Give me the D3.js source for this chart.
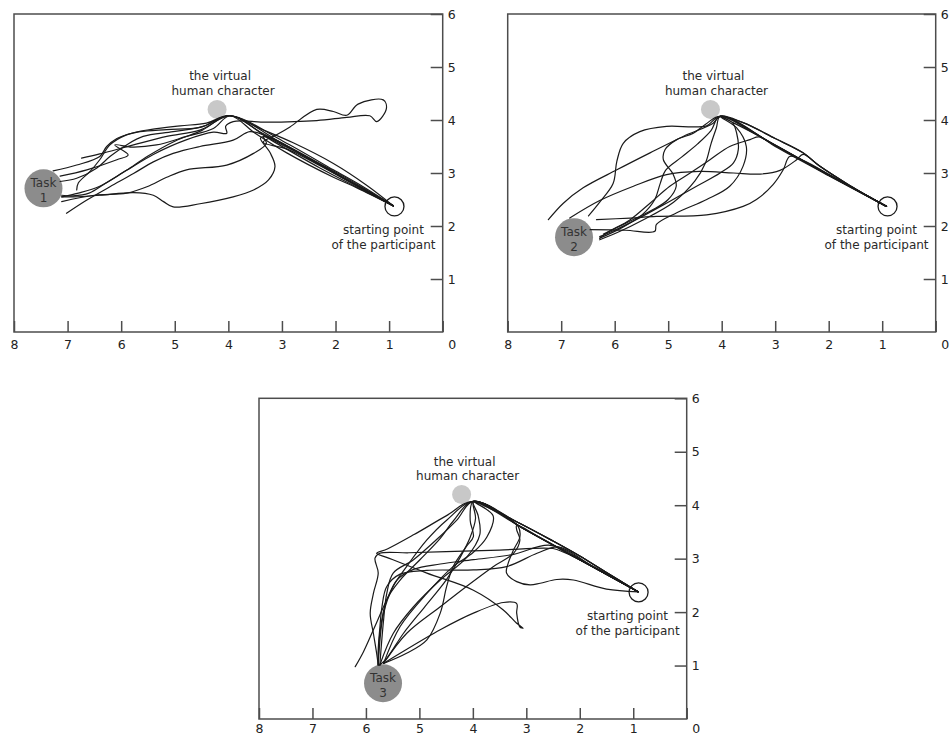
<!DOCTYPE html>
<html>
<head>
<meta charset="utf-8">
<script src="https://cdn.jsdelivr.net/npm/d3@7/dist/d3.min.js"></script>
<style>
  html, body { margin: 0; padding: 0; background: #fff; }
  svg { display: block; font-family: "DejaVu Sans", Verdana, sans-serif; }
</style>
</head>
<body>
<svg id="chart" width="951" height="736"></svg>
<script>
// Axis ticks (metres). The x axis runs from 8 on the left to 0 on the right.
const xTicks = [8, 7, 6, 5, 4, 3, 2, 1, 0];
const yTicks = [1, 2, 3, 4, 5, 6];

// Landmarks in room coordinates
const virtualHuman = [4.21, 4.2];
const startPoint = [0.9, 2.37];
const taskTargets = [[7.45, 2.71], [6.76, 1.79], [5.68, 0.67]];
const taskNames = ["1", "2", "3"];

// Walking trajectories, Task 1
const task1Tracks = [
  [[0.92,2.38],[1.9,2.93],[2.9,3.5],[3.97,4.08],[4.41,3.94],[4.90,3.89],[5.46,3.82],[5.77,3.76],[6.08,3.65],[6.27,3.50],[6.40,3.31],[6.83,3.15],[7.27,3.04]],
  [[0.92,2.38],[1.42,2.77],[2.04,3.18],[2.79,3.57],[3.41,3.84],[3.97,4.08],[4.53,3.81],[5.15,3.69],[5.77,3.53],[6.40,3.36],[6.74,3.28]],
  [[0.92,2.38],[1.8,2.88],[2.6,3.35],[3.4,3.77],[3.97,4.08],[4.28,3.84],[4.78,3.69],[5.34,3.53],[5.8,3.49],[6.12,3.53],[5.87,3.34],[6.08,3.25],[6.64,3.06],[7.14,2.94]],
  [[0.92,2.38],[1.5,2.75],[2.04,3.06],[2.98,3.60],[3.97,4.08],[4.47,3.88],[5.03,3.78],[5.59,3.69],[5.90,3.53],[6.21,3.31],[6.46,3.09],[6.83,2.90],[7.14,2.84]],
  [[0.92,2.38],[1.6,2.72],[2.04,2.92],[2.91,3.38],[3.5,3.75],[3.97,4.08],[4.53,3.86],[5.15,3.82],[5.65,3.78],[5.90,3.72],[6.21,3.53],[6.40,3.25],[6.58,3.03],[6.80,2.81],[6.83,2.68]],
  [[0.92,2.38],[1.7,2.82],[2.5,3.27],[3.2,3.66],[3.40,3.66],[3.22,3.38],[3.13,3.12],[3.25,2.87],[3.53,2.68],[3.91,2.55],[4.53,2.42],[5.03,2.36],[5.21,2.46],[5.40,2.58],[5.77,2.63],[6.40,2.58],[6.89,2.55],[7.11,2.55]],
  [[0.92,2.38],[2.2,3.1],[3.3,3.7],[3.60,3.78],[3.91,3.62],[4.53,3.50],[5.03,3.37],[5.40,3.21],[5.77,2.99],[6.21,2.74],[6.64,2.49],[7.02,2.24]],
  [[0.92,2.38],[2.0,3.02],[2.9,3.48],[3.35,3.69],[3.29,3.56],[3.53,3.37],[4.03,3.15],[4.78,3.06],[5.15,2.92],[5.52,2.74],[5.9,2.62],[6.5,2.58],[7.11,2.46]],
  [[0.92,2.38],[1.9,2.92],[2.9,3.45],[3.35,3.58],[3.1,3.72],[2.85,3.87],[2.35,4.20],[2.04,4.16],[1.79,4.09],[1.58,4.30],[1.11,4.38],[1.05,4.22],[1.23,3.97],[1.36,4.08],[1.79,4.05],[2.35,3.99],[3.29,3.96],[3.91,3.97],[4.05,3.88],[4.03,3.75],[4.28,3.77],[4.8,3.62],[5.4,3.35],[5.9,3.05],[6.4,2.75],[6.8,2.62],[7.11,2.55]],
  [[0.92,2.38],[1.5,2.68],[2.3,3.1],[3.2,3.62],[3.97,4.08],[4.5,3.8],[5.0,3.6],[5.5,3.32],[5.9,3.05],[6.3,2.80],[6.6,2.62],[6.9,2.57],[7.11,2.58]]
];

// Walking trajectories, Task 2
const task2Tracks = [
  [[0.92,2.37],[2.0,2.96],[3.0,3.52],[4.03,4.07],[4.16,3.94],[4.72,3.69],[5.34,3.38],[5.96,3.06],[6.59,2.72],[6.96,2.43],[7.24,2.12]],
  [[0.92,2.37],[1.8,2.86],[2.6,3.30],[3.4,3.75],[4.03,4.07],[4.28,3.89],[4.53,3.87],[5.03,3.88],[5.53,3.78],[5.84,3.56],[5.96,3.22],[6.03,2.80],[6.28,2.45],[6.49,2.19]],
  [[0.92,2.37],[1.6,2.76],[2.17,3.13],[2.48,3.35],[2.60,3.25],[2.91,3.05],[3.28,2.98],[3.78,3.00],[4.41,3.03],[5.03,2.97],[5.65,2.75],[6.28,2.48],[6.84,2.15]],
  [[0.92,2.37],[1.8,2.86],[2.5,3.25],[2.73,3.31],[2.85,3.06],[3.04,2.78],[3.35,2.50],[3.60,2.37],[4.28,2.21],[5.22,2.18],[5.71,2.15],[6.34,2.12]],
  [[0.92,2.37],[2.0,2.96],[3.0,3.52],[4.03,4.07],[4.2,3.8],[4.45,3.55],[4.75,3.3],[5.05,3.05],[5.15,2.8],[5.25,2.5],[5.5,2.2],[5.9,1.95],[6.28,1.77]],
  [[0.92,2.37],[1.6,2.76],[2.17,3.13],[2.48,3.38],[3.0,3.65],[3.6,3.95],[4.03,4.07],[4.1,3.85],[4.2,3.55],[4.3,3.2],[4.5,2.85],[4.9,2.45],[5.5,2.10],[5.9,1.90],[6.28,1.74]],
  [[0.92,2.37],[1.8,2.86],[2.6,3.30],[3.4,3.75],[4.03,4.07],[3.80,3.95],[3.72,3.75],[3.69,3.44],[3.78,3.19],[4.03,3.0],[4.47,2.75],[5.0,2.45],[5.6,2.12],[6.0,1.92],[6.28,1.80]],
  [[0.92,2.37],[2.0,2.96],[3.0,3.52],[4.03,4.07],[4.3,3.92],[4.53,3.75],[4.84,3.63],[5.06,3.44],[5.09,3.25],[4.91,2.98],[4.85,2.75],[5.0,2.5],[5.3,2.3],[5.8,2.05],[6.21,1.85]],
  [[0.92,2.37],[1.6,2.76],[2.17,3.13],[2.48,3.38],[3.0,3.65],[3.6,3.95],[4.03,4.07],[3.72,3.85],[3.54,3.50],[3.60,3.13],[3.85,2.75],[4.28,2.50],[4.84,2.25],[5.22,2.03],[5.25,1.90],[5.8,1.92],[6.46,1.93]],
  [[0.92,2.37],[2.0,2.95],[3.0,3.5],[3.3,3.68],[3.47,3.63],[3.85,3.50],[4.22,3.25],[4.59,3.0],[4.97,2.75],[5.34,2.43],[5.71,2.12],[6.15,1.87],[6.28,1.77]]
];

// Walking trajectories, Task 3
const task3Tracks = [
  [[0.91,2.38],[1.7,2.82],[2.3,3.12],[2.50,3.19],[3.5,3.16],[4.5,3.13],[5.2,3.11],[5.74,3.10],[5.83,3.01],[5.77,2.73],[5.86,2.35],[5.92,1.98],[5.86,1.60],[5.80,1.23],[5.77,1.01]],
  [[0.91,2.38],[2.0,2.98],[3.0,3.53],[3.99,4.07],[4.5,3.80],[5.1,3.45],[5.6,3.18],[5.80,3.10],[5.6,3.02],[4.86,2.73],[3.99,2.41],[3.43,2.04],[3.18,1.79],[3.06,1.70],[3.12,1.72],[3.18,1.98],[3.18,2.16],[3.43,2.18],[3.99,1.98],[4.61,1.67],[5.36,1.23],[5.67,1.04]],
  [[0.91,2.38],[1.8,2.88],[2.4,3.22],[2.8,3.10],[3.37,2.85],[3.99,2.79],[4.86,2.78],[5.36,2.71],[5.61,2.48],[5.70,2.1],[5.74,1.7],[5.77,1.3],[5.77,1.01]],
  [[0.91,2.38],[1.50,2.43],[2.12,2.60],[2.43,2.61],[2.74,2.54],[2.93,2.51],[3.18,2.57],[3.37,2.73],[3.34,2.91],[3.24,3.16],[3.12,3.41],[3.15,3.60],[3.4,3.80],[3.75,3.98],[3.99,4.07],[3.95,3.75],[4.05,3.40],[4.25,3.0],[4.5,2.6],[4.9,2.1],[5.3,1.6],[5.6,1.15],[5.74,1.01]],
  [[0.91,2.38],[1.5,2.74],[2.0,3.05],[2.5,3.33],[3.2,3.70],[3.99,4.07],[4.05,3.72],[3.99,3.41],[4.12,3.23],[4.37,2.85],[4.49,2.48],[4.61,1.98],[4.86,1.48],[5.24,1.23],[5.67,1.04]],
  [[0.91,2.38],[2.0,2.98],[3.0,3.53],[3.99,4.07],[3.9,3.8],[3.87,3.45],[4.12,3.02],[4.61,2.60],[5.11,2.10],[5.49,1.60],[5.74,1.01]],
  [[0.91,2.38],[2.0,2.98],[3.0,3.53],[3.99,4.07],[4.37,3.70],[4.61,3.38],[4.99,2.98],[5.36,2.60],[5.61,2.23],[5.74,1.60],[5.77,1.01]],
  [[0.91,2.38],[1.5,2.74],[2.0,3.05],[2.5,3.33],[3.2,3.70],[3.99,4.07],[4.49,3.72],[4.86,3.35],[5.24,2.85],[5.49,2.48],[5.67,1.98],[5.77,1.01]],
  [[0.91,2.38],[2.0,2.98],[3.0,3.53],[3.99,4.07],[4.30,3.72],[4.61,3.42],[5.11,2.98],[5.49,2.73],[5.61,2.35],[5.67,1.85],[5.74,1.01]],
  [[0.91,2.38],[1.5,2.74],[2.0,3.05],[2.5,3.33],[3.2,3.70],[3.99,4.07],[3.62,3.80],[3.74,3.40],[3.99,3.12],[4.37,2.85],[4.86,2.35],[5.36,1.73],[5.67,1.04]],
  [[0.91,2.38],[2.0,2.98],[2.8,3.43],[3.18,3.62],[3.18,3.54],[3.12,3.35],[3.24,3.10],[3.62,2.85],[4.12,2.48],[4.61,2.10],[5.24,1.60],[5.67,1.04]],
  [[0.91,2.38],[1.8,2.88],[2.55,3.25],[3.24,3.08],[3.99,2.98],[4.61,2.90],[5.11,2.80],[5.42,2.60],[5.61,2.23],[5.86,1.67],[6.05,1.25],[6.20,0.98]]
];

const panels = [
  { left: 14,    top: 14,    width: 428.7, height: 318,   pad: 8, tracks: task1Tracks, target: taskTargets[0], name: taskNames[0] },
  { left: 507.7, top: 14,    width: 428,   height: 318,   pad: 8, tracks: task2Tracks, target: taskTargets[1], name: taskNames[1] },
  { left: 259,   top: 398.3, width: 427.7, height: 320.7, pad: 5, tracks: task3Tracks, target: taskTargets[2], name: taskNames[2] }
];

const svg = d3.select("#chart");
const ink = "#1a1a1a";
const frameColor = "#4d4d4d";

panels.forEach(p => {
  const g = svg.append("g").attr("transform", `translate(${p.left},${p.top})`);
  const x = d3.scaleLinear().domain([8, 0]).range([0, p.width]);
  const y = d3.scaleLinear().domain([0, 6]).range([p.height, 0]);

  // Bottom axis, ticks pointing into the plot
  const xAxis = g.append("g")
    .attr("transform", `translate(0,${p.height})`)
    .call(d3.axisBottom(x).tickValues(xTicks).tickSize(-11).tickSizeOuter(0).tickPadding(p.pad).tickFormat(d3.format("d")));
  xAxis.select(".domain").remove();
  xAxis.selectAll(".tick line").attr("stroke", frameColor).attr("stroke-width", 1.5);
  xAxis.selectAll(".tick text").attr("fill", "#222").attr("font-size", 12.5).attr("font-family", "DejaVu Sans, sans-serif");
  xAxis.selectAll(".tick").filter(d => d === 0).select("text").attr("x", 5).attr("text-anchor", "start");

  // Right axis, ticks pointing into the plot
  const yAxis = g.append("g")
    .attr("transform", `translate(${p.width},0)`)
    .call(d3.axisRight(y).tickValues(yTicks).tickSize(-12).tickSizeOuter(0).tickPadding(5).tickFormat(d3.format("d")));
  yAxis.select(".domain").remove();
  yAxis.selectAll(".tick line").attr("stroke", frameColor).attr("stroke-width", 1.5);
  yAxis.selectAll(".tick text").attr("fill", "#222").attr("font-size", 12.5).attr("font-family", "DejaVu Sans, sans-serif");

  // Frame
  g.append("rect")
    .attr("x", 0).attr("y", 0).attr("width", p.width).attr("height", p.height)
    .attr("fill", "none").attr("stroke", frameColor).attr("stroke-width", 1.5);

  // Landmarks below the paths
  g.append("circle")
    .attr("cx", x(p.target[0])).attr("cy", y(p.target[1])).attr("r", 19)
    .attr("fill", "#8c8c8c");
  g.append("circle")
    .attr("cx", x(virtualHuman[0])).attr("cy", y(virtualHuman[1])).attr("r", 9.5)
    .attr("fill", "#c8c8c8");
  g.append("circle")
    .attr("cx", x(startPoint[0])).attr("cy", y(startPoint[1])).attr("r", 9.5)
    .attr("fill", "#fff").attr("stroke", ink).attr("stroke-width", 1.3);

  // Trajectories
  const line = d3.line()
    .x(d => x(d[0])).y(d => y(d[1]))
    .curve(d3.curveCatmullRom.alpha(0.5));
  g.append("g").selectAll("path")
    .data(p.tracks)
    .join("path")
    .attr("d", line)
    .attr("fill", "none")
    .attr("stroke", ink)
    .attr("stroke-width", 1.2)
    .attr("stroke-linejoin", "round")
    .attr("stroke-linecap", "round");

  // Labels
  const lab = g.append("g")
    .attr("fill", "#2a2a2a")
    .attr("font-size", 12)
    .attr("text-anchor", "middle")
    .attr("dominant-baseline", "central");
  const vx = x(virtualHuman[0]), vy = y(virtualHuman[1]);
  lab.append("text").attr("x", vx + 3).attr("y", vy - 33).text("the virtual");
  lab.append("text").attr("x", vx + 6).attr("y", vy - 18.5).text("human character");
  const sx = x(startPoint[0]), sy = y(startPoint[1]);
  lab.append("text").attr("x", sx - 11).attr("y", sy + 24).text("starting point");
  lab.append("text").attr("x", sx - 11).attr("y", sy + 39).text("of the participant");
  const tx = x(p.target[0]), ty = y(p.target[1]);
  lab.append("text").attr("x", tx).attr("y", ty - 5).attr("fill", "#333").attr("font-size", 12).text("Task");
  lab.append("text").attr("x", tx).attr("y", ty + 9.5).attr("fill", "#333").attr("font-size", 12).text(p.name);
});
</script>
</body>
</html>
